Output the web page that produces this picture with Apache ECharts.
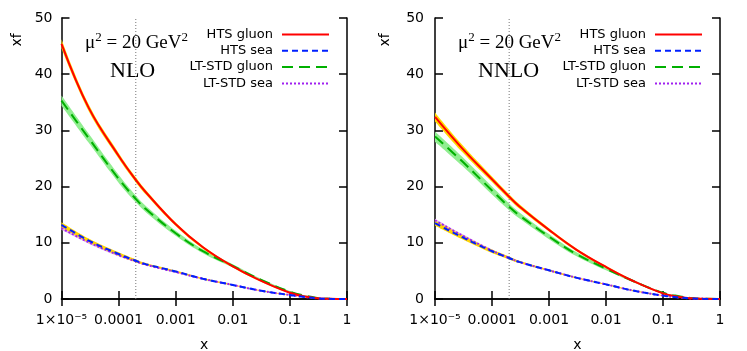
<!DOCTYPE html>
<html><head><meta charset="utf-8">
<script src="https://cdn.jsdelivr.net/npm/echarts@6/dist/echarts.min.js"></script>
<style>html,body{margin:0;padding:0;background:#fff}#c{width:747px;height:351px}</style>
</head><body><div id="c"></div>
<script>
// x grid (log axis)
const xs = [1e-5, 3e-5, 1e-4, 2e-4, 3e-4, 1e-3, 3e-3, 0.01, 0.03, 0.1, 0.2, 0.3, 0.5, 1];
const xTickLabels = ['1×10⁻⁵', '0.0001', '0.001', '0.01', '0.1', '1'];
const yTicks = [0, 10, 20, 30, 40, 50];
const refX = 2e-4;
const seriesNames = ['HTS gluon', 'HTS sea', 'LT-STD gluon', 'LT-STD sea'];
const panelTitles = ['NLO', 'NNLO'];

// NLO panel
const nloHtsGluon = [45.4, 34.0, 25.5, 21.2, 19.0, 13.3, 9.2, 5.8, 3.3, 1.1, 0.4, 0.15, 0.03, 0];
const nloHtsGluonErr = [0.8, 0.6, 0.5, 0.45, 0.4, 0.3, 0.25, 0.2, 0.15, 0.1, 0.05, 0.03, 0.01, 0];
const nloLtGluon = [35.3, 28.6, 21.4, 17.8, 16.0, 11.7, 8.5, 5.9, 3.5, 1.3, 0.5, 0.2, 0.04, 0];
const nloLtGluonErr = [0.9, 0.8, 0.7, 0.6, 0.55, 0.45, 0.35, 0.3, 0.2, 0.12, 0.06, 0.03, 0.01, 0];
const nloHtsSea = [13.2, 10.4, 8.0, 6.8, 6.2, 4.9, 3.6, 2.5, 1.5, 0.7, 0.3, 0.12, 0.03, 0];
const nloHtsSeaErr = [0.45, 0.35, 0.3, 0.25, 0.2, 0.15, 0.12, 0.1, 0.08, 0.05, 0.03, 0.02, 0.01, 0];
const nloLtSea = [12.6, 10.1, 7.8, 6.7, 6.1, 4.8, 3.6, 2.5, 1.5, 0.7, 0.3, 0.12, 0.03, 0];
const nloLtSeaErr = [0.3, 0.25, 0.2, 0.18, 0.15, 0.12, 0.1, 0.08, 0.06, 0.04, 0.02, 0.01, 0.01, 0];

// NNLO panel
const nnloHtsGluon = [32.4, 26.8, 21.3, 18.2, 16.5, 12.3, 8.8, 5.7, 3.2, 1.0, 0.35, 0.12, 0.03, 0];
const nnloHtsGluonErr = [0.8, 0.65, 0.5, 0.45, 0.4, 0.3, 0.25, 0.2, 0.15, 0.1, 0.05, 0.03, 0.01, 0];
const nnloLtGluon = [28.9, 24.5, 19.3, 16.4, 14.9, 11.1, 8.0, 5.4, 3.2, 1.1, 0.45, 0.2, 0.04, 0];
const nnloLtGluonErr = [0.9, 0.8, 0.7, 0.6, 0.55, 0.45, 0.35, 0.3, 0.2, 0.12, 0.06, 0.03, 0.01, 0];
const nnloHtsSea = [13.5, 11.0, 8.5, 7.3, 6.6, 5.1, 3.8, 2.6, 1.5, 0.6, 0.25, 0.1, 0.03, 0];
const nnloHtsSeaErr = [0.45, 0.35, 0.3, 0.25, 0.2, 0.15, 0.12, 0.1, 0.08, 0.05, 0.03, 0.02, 0.01, 0];
const nnloLtSea = [14.0, 11.3, 8.6, 7.3, 6.6, 5.1, 3.8, 2.6, 1.5, 0.6, 0.25, 0.1, 0.03, 0];
const nnloLtSeaErr = [0.3, 0.25, 0.2, 0.18, 0.15, 0.12, 0.1, 0.08, 0.06, 0.04, 0.02, 0.01, 0.01, 0];

const panels = [
  {g: nloHtsGluon, ge: nloHtsGluonErr, lg: nloLtGluon, lge: nloLtGluonErr, s: nloHtsSea, se: nloHtsSeaErr, ls: nloLtSea, lse: nloLtSeaErr},
  {g: nnloHtsGluon, ge: nnloHtsGluonErr, lg: nnloLtGluon, lge: nnloLtGluonErr, s: nnloHtsSea, se: nnloHtsSeaErr, ls: nnloLtSea, lse: nnloLtSeaErr}
];

const RED = '#ff0000', BLUE = '#0020ff', GREEN = '#00b000', PURPLE = '#a020f0';
const YELLOW = '#ffd700', LGREEN = '#90ee90', PLUM = '#e2b0ee';
const FONT = 'DejaVu Sans';
const SERIF = 'Liberation Serif';
const SMOOTH = 0.4;

// bands: stacked areas; y is put in the first column so the stack is on y
function band(vals, errs, color, xi, yi, stack) {
  const lo = vals.map((v, i) => [Math.max(v - errs[i], 0), xs[i]]);
  const d = vals.map((v, i) => [(v + errs[i]) - Math.max(v - errs[i], 0), xs[i]]);
  const common = {type: 'line', xAxisIndex: xi, yAxisIndex: yi, stack: stack, symbol: 'none', smooth: SMOOTH,
    encode: {x: 1, y: 0}, silent: true, lineStyle: {opacity: 0, width: 0}, z: 1};
  return [
    Object.assign({name: '_b', data: lo}, common),
    Object.assign({name: '_b', data: d, areaStyle: {color: color, opacity: 1}}, common)
  ];
}
function line(name, vals, color, type, xi, yi, z) {
  return {type: 'line', name: name, xAxisIndex: xi, yAxisIndex: yi, symbol: 'none', smooth: SMOOTH, z: z,
    data: vals.map((v, i) => [xs[i], v]), lineStyle: {color: color, width: 2, type: type}, itemStyle: {color: color}};
}

const grids = [
  {left: 61.5, right: 400, top: 18, bottom: 52, outerBoundsMode: 'none', containLabel: false},
  {left: 435, right: 27, top: 18, bottom: 52, outerBoundsMode: 'none', containLabel: false}
];
const xAxes = [], yAxes = [], series = [], legends = [], graphics = [];
const axisLine = {show: true, lineStyle: {color: '#000', width: 1.5}};
grids.forEach((g, p) => {
  xAxes.push({type: 'log', logBase: 10, gridIndex: p, min: 1e-5, max: 1, position: 'bottom',
    name: 'x', nameLocation: 'middle', nameGap: 39, nameTextStyle: {fontFamily: FONT, fontSize: 14, color: '#000'},
    axisLine: axisLine, axisTick: {inside: true, length: 8, lineStyle: {color: '#000', width: 1.5}},
    minorTick: {show: false}, splitLine: {show: false},
    axisLabel: {margin: 14, fontFamily: FONT, fontSize: 14, color: '#000',
      formatter: v => xTickLabels[Math.round(Math.log10(v)) + 5]}});
  xAxes.push({type: 'log', logBase: 10, gridIndex: p, min: 1e-5, max: 1, position: 'top',
    axisLine: axisLine, axisTick: {inside: true, length: 7, lineStyle: {color: '#000', width: 1.5}},
    axisLabel: {show: false}, splitLine: {show: false}});
  yAxes.push({type: 'value', gridIndex: p, min: yTicks[0], max: yTicks[yTicks.length - 1], interval: 10, position: 'left',
    axisLine: axisLine, axisTick: {inside: true, length: 8, lineStyle: {color: '#000', width: 1.5}},
    splitLine: {show: false}, axisLabel: {margin: p === 0 ? 9 : 11, fontFamily: FONT, fontSize: 14, color: '#000'}});
  yAxes.push({type: 'value', gridIndex: p, min: yTicks[0], max: yTicks[yTicks.length - 1], interval: 10, position: 'right',
    axisLine: axisLine, axisTick: {inside: true, length: 8, lineStyle: {color: '#000', width: 1.5}},
    splitLine: {show: false}, axisLabel: {show: false}});
  const xi = p * 2, yi = p * 2, d = panels[p];
  // vertical reference line at x = refX spanning the y range
  series.push({type: 'line', name: '_ref', xAxisIndex: xi, yAxisIndex: yi, symbol: 'none', silent: true, z: 2,
    data: [[refX, yTicks[0]], [refX, yTicks[yTicks.length - 1]]],
    lineStyle: {color: '#777', width: 1, type: [1, 2]}});
  series.push(...band(d.lg, d.lge, LGREEN, xi, yi, 'lg' + p));
  series.push(...band(d.g, d.ge, YELLOW, xi, yi, 'g' + p));
  series.push(...band(d.ls, d.lse, PLUM, xi, yi, 'ls' + p));
  series.push(...band(d.s, d.se, YELLOW, xi, yi, 's' + p));
  series.push(line(seriesNames[2], d.lg, GREEN, [11, 6], xi, yi, 3));
  series.push(line(seriesNames[0], d.g, RED, 'solid', xi, yi, 4));
  series.push(line(seriesNames[3], d.ls, PURPLE, [2, 2], xi, yi, 3));
  series.push(line(seriesNames[1], d.s, BLUE, [6, 4], xi, yi, 5));
  legends.push({data: seriesNames, orient: 'vertical', align: 'right', right: p === 0 ? 417 : 44, top: 28,
    itemWidth: 47, itemHeight: 14, itemGap: 3.3, padding: 0, selectedMode: false,
    itemStyle: {opacity: 0},
    textStyle: {fontFamily: FONT, fontSize: 13, color: '#000', padding: [0, 4, 0, 0]}});
});

const muLeft = [85, 458], titleLeft = [110, 478], xfLeft = [17, 385];
[0, 1].forEach(p => {
  graphics.push({type: 'text', left: muLeft[p], top: 31, style: {
    text: '{m|μ}{s|2}{m| = 20 GeV}{s|2}', rich: {
      m: {fontFamily: SERIF, fontSize: 19, fill: '#000', lineHeight: 22, verticalAlign: 'bottom'},
      s: {fontFamily: SERIF, fontSize: 13, fill: '#000', lineHeight: 22, verticalAlign: 'top'}}}});
  graphics.push({type: 'text', left: titleLeft[p], top: 60, style: {text: panelTitles[p], fontFamily: SERIF, fontSize: 22, fill: '#000'}});
  graphics.push({type: 'text', x: xfLeft[p], y: 40, rotation: Math.PI / 2, style: {text: 'xf', fontFamily: FONT, fontSize: 14, fill: '#000', align: 'center', verticalAlign: 'middle'}});
});

const chart = echarts.init(document.getElementById('c'), null, {renderer: 'canvas'});
chart.setOption({animation: false, backgroundColor: '#fff', grid: grids, xAxis: xAxes, yAxis: yAxes,
  legend: legends, series: series, graphic: graphics});
</script></body></html>
